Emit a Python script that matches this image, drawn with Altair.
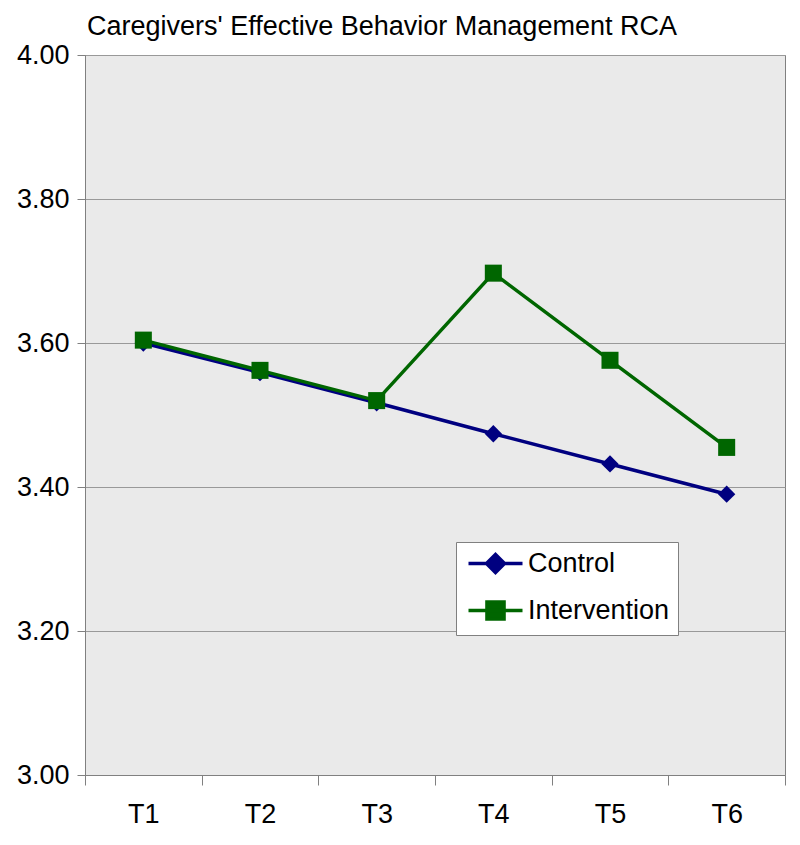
import altair as alt
import pandas as pd

times = ["T1", "T2", "T3", "T4", "T5", "T6"]
control = [3.600, 3.559, 3.517, 3.474, 3.432, 3.390]
intervention = [3.604, 3.562, 3.520, 3.697, 3.576, 3.455]
series = ["Control", "Intervention"]
colors = ["#000080", "#006600"]

rows = []
for t, c, i in zip(times, control, intervention):
    rows.append({"time": t, "value": c, "group": "Control"})
    rows.append({"time": t, "value": i, "group": "Intervention"})
df = pd.DataFrame(rows)

FONT = "Liberation Sans"
GRAY = "#808080"
FS = 27

x = alt.X("time:N", sort=times, title=None,
          scale=alt.Scale(paddingInner=0, paddingOuter=0),
          axis=alt.Axis(labelAngle=0, tickBand="extent", tickSize=10, tickColor=GRAY,
                        domainColor=GRAY, labelFontSize=FS, labelFont=FONT,
                        labelColor="black", labelPadding=16, grid=False))
y = alt.Y("value:Q", title=None,
          scale=alt.Scale(domain=[3.0, 4.0], nice=False, zero=False),
          axis=alt.Axis(values=[3.0, 3.2, 3.4, 3.6, 3.8, 4.0], format=".2f",
                        tickSize=8, tickColor=GRAY, domainColor=GRAY, gridColor="#999999",
                        labelFontSize=FS, labelFont=FONT, labelColor="black",
                        labelPadding=8, minExtent=72, maxExtent=72))

leg = alt.Legend(title=None, orient="none", legendX=371, legendY=487,
                 fillColor="white", strokeColor=GRAY, padding=8,
                 labelFontSize=FS, labelFont=FONT, labelColor="black",
                 symbolSize=324, labelOffset=37, rowPadding=14,
                 symbolStrokeWidth=3.5)
cscale = alt.Scale(domain=series, range=colors)
color = alt.Color("group:N", scale=cscale, legend=leg)

lines = alt.Chart(df).mark_line(strokeWidth=3.5).encode(x=x, y=y, color=color)

pts_c = alt.Chart(df).transform_filter(alt.datum.group == "Control").mark_point(
    filled=True, opacity=1, size=300, shape="diamond").encode(x=x, y=y, color=color)
pts_i = alt.Chart(df).transform_filter(alt.datum.group == "Intervention").mark_point(
    filled=True, opacity=1, size=290, shape="square").encode(x=x, y=y, color=color)

diamond_leg = "M-1,0H5M2,-1L3,0L2,1L1,0Z"
square_leg = "M-1,0H5M1.05,-0.95H2.95V0.95H1.05Z"

legend_layer = alt.Chart(df).mark_point(filled=True, opacity=1, size=0, strokeWidth=3.5).encode(
    x=x, y=y, color=color,
    stroke=alt.Stroke("group:N", scale=cscale, legend=leg),
    shape=alt.Shape("group:N", scale=alt.Scale(domain=series, range=[diamond_leg, square_leg]),
                    legend=leg),
)

chart = alt.layer(lines, pts_c, pts_i, legend_layer).properties(
    width=700, height=720,
    title=alt.TitleParams("Caregivers' Effective Behavior Management RCA", anchor="start",
                          frame="group", fontSize=FS, font=FONT, fontWeight="normal",
                          color="black", offset=0, dx=2),
    padding=5,
    background="white",
).configure_view(fill="#EAEAEA", stroke=GRAY, strokeWidth=1)

chart.save("out.html", embed_options={"renderer": "svg", "actions": False})
